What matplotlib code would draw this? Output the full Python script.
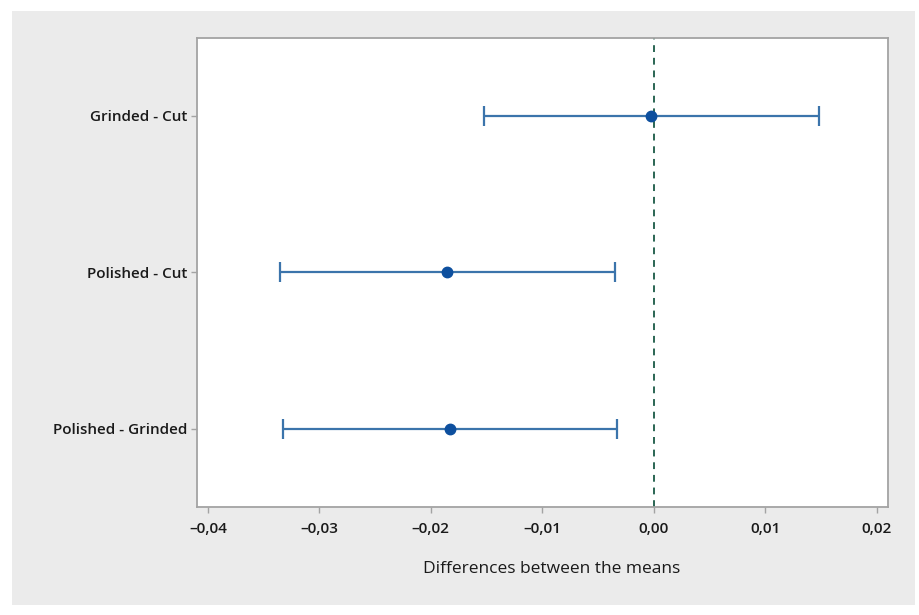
import matplotlib
matplotlib.use("Agg")
import matplotlib.pyplot as plt
from matplotlib.patches import Rectangle
from matplotlib.ticker import FuncFormatter

# Pairwise comparisons: difference of means with confidence interval bounds
comparisons = ["Grinded - Cut", "Polished - Cut", "Polished - Grinded"]
diff_mean = [-0.0002, -0.0185, -0.01825]
ci_lower = [-0.01525, -0.0335, -0.03325]
ci_upper = [0.01486, -0.0035, -0.00326]
x_ticks = [-0.04, -0.03, -0.02, -0.01, 0.00, 0.01, 0.02]

plt.rcParams["font.family"] = ["Open Sans", "DejaVu Sans"]

fig = plt.figure(figsize=(9.19, 6.15), dpi=100, facecolor="white")
# grey panel behind the plot
panel = Rectangle((0.013, 0.0163), 0.9826, 0.9657, transform=fig.transFigure,
                  facecolor="#ebebeb", edgecolor="none", zorder=-10)
fig.add_artist(panel)

ax = fig.add_axes([0.214, 0.176, 0.752, 0.7627])
ax.set_zorder(1)
ax.set_facecolor("white")

ypos = [3, 2, 1]
lo_err = [m - l for m, l in zip(diff_mean, ci_lower)]
hi_err = [u - m for m, u in zip(diff_mean, ci_upper)]

ax.axvline(0, color="#2a6553", linestyle=(0, (3.5, 3)), linewidth=1.4, zorder=1)
ax.errorbar(diff_mean, ypos, xerr=[lo_err, hi_err], fmt="none",
            ecolor="#3b74ab", elinewidth=1.6, capsize=7.5, capthick=1.6, zorder=2)
ax.plot(diff_mean, ypos, "o", color="#0d4f9e", markersize=7.5, zorder=3)

ax.set_xlim(-0.041, 0.021)
ax.set_ylim(0.5, 3.5)
ax.set_yticks(ypos)
ax.set_yticklabels(comparisons)
ax.set_xticks(x_ticks)
ax.xaxis.set_major_formatter(FuncFormatter(
    lambda v, p: ("\u2013" if v < -1e-12 else "") + f"{abs(v):.2f}".replace(".", ",")))

for s in ax.spines.values():
    s.set_color("#a3a3a3")
    s.set_linewidth(1.3)

ax.tick_params(axis="both", colors="#a3a3a3", labelcolor="#1a1a1a",
               length=4, width=1, labelsize=11)
ax.tick_params(axis="y", pad=3)
ax.tick_params(axis="x", pad=7)
for lab in ax.get_xticklabels() + ax.get_yticklabels():
    lab.set_fontweight("semibold")

ax.set_xlabel("Differences between the means", fontsize=12.5, color="#1a1a1a",
              fontweight="medium")
ax.xaxis.set_label_coords(0.513, -0.115)

fig.savefig("out.png", dpi=100, facecolor="white")
